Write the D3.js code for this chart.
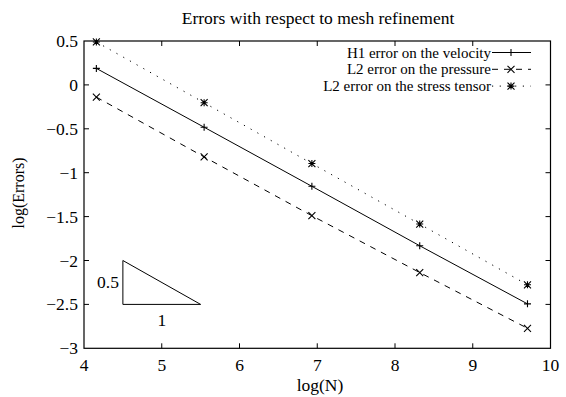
<!DOCTYPE html>
<html><head><meta charset="utf-8">
<script src="https://cdn.jsdelivr.net/npm/d3@7"></script>
<style>body{margin:0;background:#fff}svg{display:block}text{font-family:"Liberation Serif","Times New Roman",serif;fill:#000}</style>
</head><body>
<script>
const logN = [4.159, 5.545, 6.931, 8.318, 9.704];
const h1Velocity = [0.188, -0.482, -1.155, -1.832, -2.494];
const l2Pressure = [-0.139, -0.82, -1.49, -2.137, -2.772];
const l2Stress = [0.489, -0.203, -0.896, -1.585, -2.277];
const xTicks = [4, 5, 6, 7, 8, 9, 10];
const yTicks = [0.5, 0, -0.5, -1, -1.5, -2, -2.5, -3];
const seriesNames = ["H1 error on the velocity", "L2 error on the pressure", "L2 error on the stress tensor"];
const slopeTri = [[4.5, -2], [4.5, -2.5], [5.5, -2.5]];

const W = 566, H = 397;
const svg = d3.select("body").append("svg").attr("width", W).attr("height", H);
const x = d3.scaleLinear().domain([4, 10]).range([84, 550.5]);
const y = d3.scaleLinear().domain([-3, 0.5]).range([348.3, 41]);

const fmt = v => (v < 0 ? "\u2212" + Math.abs(v) : String(v));
const g = svg.append("g");
const tl = 5;
xTicks.forEach(t => {
  if (t > 4 && t < 10) {
    g.append("line").attr("x1", x(t)).attr("x2", x(t)).attr("y1", y(-3)).attr("y2", y(-3) - tl).attr("stroke", "#000");
    g.append("line").attr("x1", x(t)).attr("x2", x(t)).attr("y1", y(0.5)).attr("y2", y(0.5) + tl).attr("stroke", "#000");
  }
  g.append("text").attr("x", x(t)).attr("y", 371).attr("text-anchor", "middle").style("font-size", "17.5px").text(fmt(t));
});
yTicks.forEach(t => {
  if (t > -3 && t < 0.5) {
    g.append("line").attr("x1", x(4)).attr("x2", x(4) + tl).attr("y1", y(t)).attr("y2", y(t)).attr("stroke", "#000");
    g.append("line").attr("x1", x(10)).attr("x2", x(10) - tl).attr("y1", y(t)).attr("y2", y(t)).attr("stroke", "#000");
  }
  g.append("text").attr("x", 78).attr("y", y(t) + 6).attr("text-anchor", "end").style("font-size", "17.5px").text(fmt(t));
});
g.append("rect").attr("x", x(4)).attr("y", y(0.5)).attr("width", x(10) - x(4)).attr("height", y(-3) - y(0.5))
  .attr("fill", "none").attr("stroke", "#000").attr("stroke-width", 1.2);

svg.append("text").attr("x", 318).attr("y", 24).attr("text-anchor", "middle").style("font-size", "17.5px").text("Errors with respect to mesh refinement");
svg.append("text").attr("x", 320).attr("y", 391).attr("text-anchor", "middle").style("font-size", "17.5px").text("log(N)");
svg.append("text").attr("transform", "translate(24,193) rotate(-90)").attr("text-anchor", "middle").style("font-size", "16px").text("log(Errors)");

function marker(sel, type, cx, cy) {
  const s = 3.5;
  const p = sel.append("path").attr("stroke", "#000").attr("stroke-width", 1.1).attr("fill", "none");
  let d = "";
  if (type === 0 || type === 2) d += `M${cx - s},${cy}H${cx + s}M${cx},${cy - s}V${cy + s}`;
  if (type === 1 || type === 2) d += `M${cx - s},${cy - s}L${cx + s},${cy + s}M${cx - s},${cy + s}L${cx + s},${cy - s}`;
  p.attr("d", d);
}
const series = [h1Velocity, l2Pressure, l2Stress];
const dashes = [null, "6,6", "1.2,6.5"];
const line = d3.line().x((d, i) => x(logN[i])).y(d => y(d));
series.forEach((s, k) => {
  const p = svg.append("path").datum(s).attr("d", line).attr("fill", "none").attr("stroke", "#000").attr("stroke-width", 1);
  if (dashes[k]) p.attr("stroke-dasharray", dashes[k]);
  s.forEach((v, i) => marker(svg, k, x(logN[i]), y(v)));
});

const legRows = [52.5, 69.3, 86.1];
seriesNames.forEach((n, k) => {
  svg.append("text").attr("x", 491).attr("y", legRows[k] + 5).attr("text-anchor", "end").style("font-size", "15px").text(n);
  const p = svg.append("line").attr("x1", 492).attr("x2", 531).attr("y1", legRows[k]).attr("y2", legRows[k]).attr("stroke", "#000");
  if (dashes[k]) p.attr("stroke-dasharray", dashes[k]);
  marker(svg, k, 511, legRows[k]);
});

svg.append("path").datum(slopeTri).attr("d", d3.line().x(d => x(d[0])).y(d => y(d[1])).curve(d3.curveLinearClosed))
  .attr("fill", "none").attr("stroke", "#000").attr("stroke-width", 1);
svg.append("text").attr("x", x(4.5) - 4).attr("y", y(-2.25) + 6).attr("text-anchor", "end").style("font-size", "17.5px").text("0.5");
svg.append("text").attr("x", x(5)).attr("y", y(-2.5) + 22).attr("text-anchor", "middle").style("font-size", "17.5px").text("1");
</script>
</body></html>
